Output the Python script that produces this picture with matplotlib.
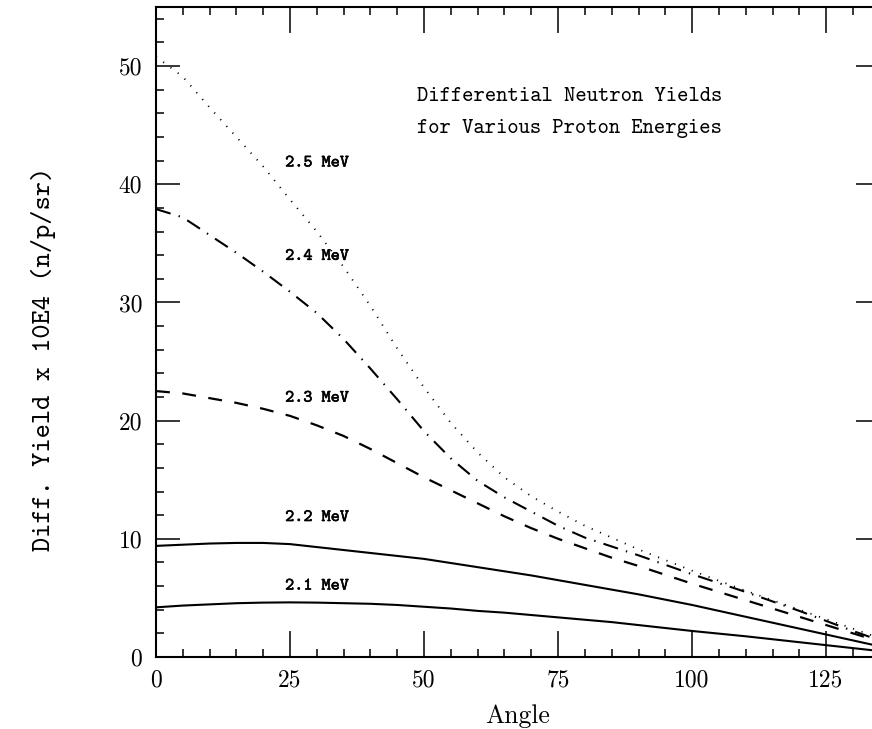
import numpy as np
import matplotlib
matplotlib.use("Agg")
import matplotlib.pyplot as plt
import matplotlib.patheffects as pe
from matplotlib.ticker import MultipleLocator

plt.rcParams['lines.scale_dashes'] = False

# angle grid (deg) and yields
ang = [0, 5, 10, 15, 20, 25, 30, 35, 40, 45, 50, 55, 60, 65, 70, 75, 80, 85, 90,
       100, 110, 120, 130, 135]

y21 = [4.2, 4.35, 4.45, 4.55, 4.6, 4.62, 4.6, 4.55, 4.5, 4.4, 4.25, 4.1, 3.9, 3.75,
       3.55, 3.35, 3.15, 2.95, 2.7, 2.2, 1.75, 1.25, 0.75, 0.5]
y22 = [9.4, 9.5, 9.6, 9.65, 9.65, 9.55, 9.3, 9.05, 8.8, 8.55, 8.3, 7.95, 7.6, 7.25,
       6.9, 6.5, 6.1, 5.7, 5.3, 4.4, 3.4, 2.4, 1.4, 0.9]
y23 = [22.5, 22.3, 21.9, 21.5, 21.0, 20.4, 19.6, 18.7, 17.6, 16.4, 15.2, 14.1, 13.0,
       11.9, 10.9, 10.0, 9.2, 8.4, 7.7, 6.2, 4.8, 3.4, 2.0, 1.3]
y24 = [37.9, 37.2, 35.7, 34.2, 32.6, 30.9, 29.1, 26.9, 24.4, 21.8, 19.1, 16.8, 14.9,
       13.5, 12.3, 11.1, 10.1, 9.35, 8.6, 7.0, 5.5, 3.9, 2.2, 1.4]
y25 = [50.8, 49.1, 46.5, 44.0, 41.5, 38.7, 36.0, 33.0, 29.7, 26.1, 22.8, 19.8, 17.3,
       15.2, 13.6, 12.3, 11.1, 10.1, 9.1, 7.3, 5.6, 4.0, 2.4, 1.6]

energies = ["2.1 MeV", "2.2 MeV", "2.3 MeV", "2.4 MeV", "2.5 MeV"]
label_x = [30, 30, 30, 30, 30]
label_y = [6.0, 11.8, 21.9, 33.9, 41.8]

fig = plt.figure(figsize=(8.72, 7.29), dpi=100)
ax = fig.add_axes([0.1789, 0.0988, 0.830, 0.8916])

ax.plot(ang, y21, color='black', lw=1.5)
ax.plot(ang, y22, color='black', lw=1.5)
ax.plot(ang, y23, color='black', lw=1.6, linestyle=(0, (10, 9)))
ax.plot(ang, y24, color='black', lw=1.5, linestyle=(0, (11, 6, 1, 6)))
ax.plot(ang, y25, color='black', lw=1.3, linestyle=(0, (0.8, 5.7)))

for lab, lx, ly in zip(energies, label_x, label_y):
    ax.text(lx, ly, lab, family='cmtt10', fontsize=12.5, ha='center', va='center',
            path_effects=[pe.withStroke(linewidth=0.4, foreground='black')])

ax.text(48.7, 47.4, "Differential Neutron Yields", family='cmtt10', fontsize=15.5,
        ha='left', va='center')
ax.text(48.7, 44.7, "for Various Proton Energies", family='cmtt10', fontsize=15.5,
        ha='left', va='center')

ax.set_xlim(0, 135)
ax.set_ylim(0, 55)
ax.xaxis.set_major_locator(MultipleLocator(25))
ax.xaxis.set_minor_locator(MultipleLocator(5))
ax.yaxis.set_major_locator(MultipleLocator(10))
ax.yaxis.set_minor_locator(MultipleLocator(2))

ax.tick_params(which='both', direction='in', top=True, right=True, width=1.1)
ax.tick_params(axis='x', which='major', length=19, pad=9)
ax.tick_params(axis='y', which='major', length=17, pad=10)
ax.tick_params(which='minor', length=6)
for t in ax.get_xticklabels() + ax.get_yticklabels():
    t.set_family('cmr10')
    t.set_fontsize(17)
for s in ax.spines.values():
    s.set_linewidth(1.5)

ax.set_xlabel("Angle", family='cmr10', fontsize=18.5, labelpad=9)
fig.text(0.050, 0.508, "Diff. Yield x 10E4 (n/p/sr)", family='cmtt10', fontsize=19.5,
         rotation=90, ha='center', va='center')

fig.savefig("out.png", dpi=100)
